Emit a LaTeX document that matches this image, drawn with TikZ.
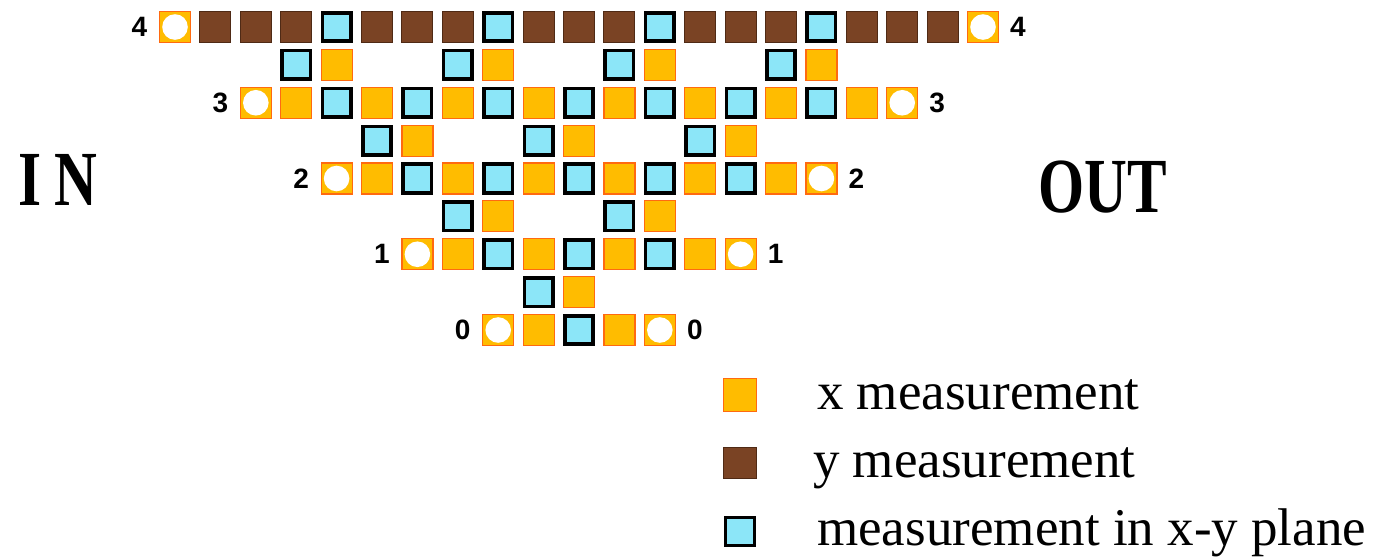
\documentclass[tikz,border=0pt]{standalone}
\usepackage{fontspec}
\setmainfont{Liberation Serif}
\newfontfamily\labfont{Liberation Sans}
\definecolor{xorange}{HTML}{FFBC00}
\definecolor{xedge}{HTML}{FF6A10}
\definecolor{ybrown}{HTML}{7A4324}
\definecolor{ybrownedge}{HTML}{4F2A15}
\definecolor{xyblue}{HTML}{8CE6F8}
\tikzset{
  cell/.style={minimum width=31pt, minimum height=31pt, inner sep=0pt, outer sep=0pt},
  xbox/.style={cell, fill=xorange, draw=xedge, line width=1.2pt},
  ybox/.style={cell, fill=ybrown, draw=ybrownedge, line width=1pt},
  xybox/.style={cell, fill=xyblue, draw=black, line width=3.6pt, minimum width=28.5pt, minimum height=28.5pt},
  endbox/.style={xbox, path picture={\fill[white] (path picture bounding box.center) circle (12.8pt);}},
  num/.style={inner sep=0pt, font=\labfont\bfseries\fontsize{28}{28}\selectfont},
  big/.style={inner sep=0pt, anchor=base, font=\bfseries\fontsize{78}{80}\selectfont},
  legtext/.style={inner sep=0pt, anchor=base west, font=\fontsize{53}{55}\selectfont},
}
\begin{document}
\begin{tikzpicture}[x=1pt,y=-1pt]
\useasboundingbox (0,0) rectangle (1382,558);
% main rows
\foreach \r in {0,...,4}{
  \pgfmathtruncatemacro{\s}{2*(4-\r)}
  \pgfmathtruncatemacro{\e}{20-\s}
  \pgfmathsetmacro{\yy}{330-75.75*\r}
  \node[endbox] (m-\r-\s) at ({175+40.4*\s},\yy) {};
  \node[endbox] (m-\r-\e) at ({175+40.4*\e},\yy) {};
  \node[num] (ll-\r) at ({175+40.4*\s-35.5},\yy) {\r};
  \node[num] (rl-\r) at ({175+40.4*\e+35},\yy) {\r};
  \pgfmathtruncatemacro{\a}{\s+1}
  \pgfmathtruncatemacro{\b}{\e-1}
  \foreach \i in {\a,...,\b}{
    \pgfmathtruncatemacro{\odd}{mod(\i,2)}
    \pgfmathtruncatemacro{\four}{mod(\i,4)}
    \ifnum\r=4
      \ifnum\four=0
        \node[xybox] (m-\r-\i) at ({175+40.4*\i},\yy) {};
      \else
        \node[ybox] (m-\r-\i) at ({175+40.4*\i},\yy) {};
      \fi
    \else
      \ifnum\odd=1
        \node[xbox] (m-\r-\i) at ({175+40.4*\i},\yy) {};
      \else
        \node[xybox] (m-\r-\i) at ({175+40.4*\i},\yy) {};
      \fi
    \fi
  }
}
% intermediate rows
\foreach \r in {1,...,4}{
  \pgfmathtruncatemacro{\K}{\r-1}
  \pgfmathsetmacro{\yy}{330-75.75*\r+37.875}
  \foreach \k in {0,...,\K}{
    \pgfmathtruncatemacro{\i}{2*(4-\r)+4+4*\k}
    \pgfmathtruncatemacro{\j}{\i-1}
    \node[xybox] (h-\r-\j) at ({175+40.4*\j},\yy) {};
    \node[xbox] (h-\r-\i) at ({175+40.4*\i},\yy) {};
  }
}
% IN / OUT
\node[big] (in) at (58,205) {\scalebox{0.76}[1]{I\hspace{18pt}N}};
\node[big] (out) at (1103,212) {\scalebox{0.76}[1]{OUT}};
% legend
\node[xbox, minimum width=33pt, minimum height=33pt] (lx) at (740,395) {};
\node[ybox, minimum width=33pt, minimum height=31pt] (ly) at (740,463) {};
\node[xybox, minimum width=29pt, minimum height=28pt] (lxy) at (740,531.5) {};
\node[legtext] (tx) at (817,409) {x measurement};
\node[legtext] (ty) at (813,477) {y measurement};
\node[legtext] (txy) at (817,545) {measurement in x-y plane};
\end{tikzpicture}
\end{document}
